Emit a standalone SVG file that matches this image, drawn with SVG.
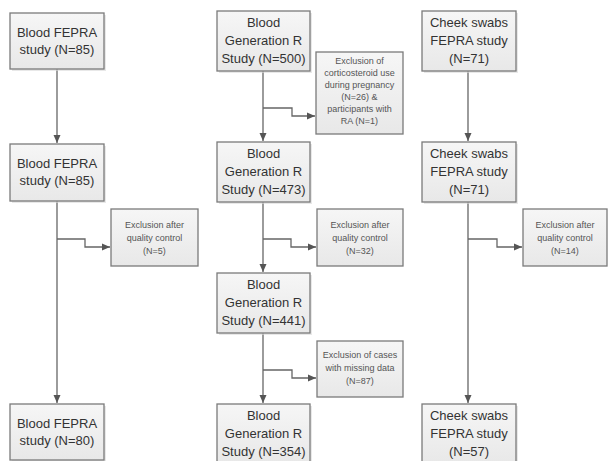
<svg xmlns="http://www.w3.org/2000/svg" width="608" height="461" viewBox="0 0 608 461">
<defs>
<linearGradient id="g" x1="0" y1="0" x2="0" y2="1"><stop offset="0" stop-color="#f6f6f6"/><stop offset="1" stop-color="#e8e8e8"/></linearGradient>
<marker id="ah" markerUnits="userSpaceOnUse" markerWidth="8" markerHeight="8" refX="8" refY="4" orient="auto"><path d="M0,0.5 L8,4 L0,7.5 z" fill="#555"/></marker>
</defs>
<style>
.b{fill:url(#g);stroke:#7a7a7a;stroke-width:1.3}
.s{fill:#d8d8d8;stroke:none;opacity:0.6}
.t{font-family:"Liberation Sans",Arial,sans-serif;font-size:13px;fill:#333;text-anchor:middle}
.e{font-family:"Liberation Sans",Arial,sans-serif;font-size:9px;fill:#555;text-anchor:middle}
.c{fill:none;stroke:#666;stroke-width:1.3;marker-end:url(#ah)}
</style>
<rect width="608" height="461" fill="#fff"/>
<g id="connectors">
<path class="c" d="M57,69 V143"/>
<path class="c" d="M57,201 V403"/>
<path class="c" d="M57,239 H85 V247 H110"/>
<path class="c" d="M263,71 V141"/>
<path class="c" d="M263,202 V272"/>
<path class="c" d="M263,333 V403"/>
<path class="c" d="M263,108 H292 V116 H315"/>
<path class="c" d="M263,239 H291 V247 H316"/>
<path class="c" d="M263,370 H292 V378 H316"/>
<path class="c" d="M468,71 V141"/>
<path class="c" d="M468,202 V403"/>
<path class="c" d="M468,239 H497 V247 H522"/>
</g>
<g id="n1"><rect class="s" x="12" y="15" width="94" height="56"/><rect class="b" x="10" y="13" width="94" height="56"/><text class="t" x="57" y="37">Blood FEPRA</text><text class="t" x="57" y="54">study (N=85)</text></g>
<g id="n2"><rect class="s" x="12" y="146" width="94" height="57"/><rect class="b" x="10" y="144" width="94" height="57"/><text class="t" x="57" y="168">Blood FEPRA</text><text class="t" x="57" y="185">study (N=85)</text></g>
<g id="n3"><rect class="b" x="111" y="209" width="87" height="57"/><text class="e" x="154.5" y="228">Exclusion after</text><text class="e" x="154.5" y="241">quality control</text><text class="e" x="154.5" y="254">(N=5)</text></g>
<g id="n4"><rect class="s" x="12" y="406" width="94" height="56"/><rect class="b" x="10" y="404" width="94" height="56"/><text class="t" x="57" y="428">Blood FEPRA</text><text class="t" x="57" y="445">study (N=80)</text></g>

<g id="m1"><rect class="s" x="219" y="13" width="93" height="60"/><rect class="b" x="217" y="11" width="93" height="60"/><text class="t" x="263.5" y="27">Blood</text><text class="t" x="263.5" y="45">Generation R</text><text class="t" x="263.5" y="63">Study (N=500)</text></g>
<g id="m2"><rect class="b" x="316" y="52" width="87" height="82"/><text class="e" x="359.5" y="64">Exclusion of</text><text class="e" x="359.5" y="76">corticosteroid use</text><text class="e" x="359.5" y="88">during pregnancy</text><text class="e" x="359.5" y="100">(N=26) &amp;</text><text class="e" x="359.5" y="112">participants with</text><text class="e" x="359.5" y="124">RA (N=1)</text></g>
<g id="m3"><rect class="s" x="219" y="144" width="93" height="60"/><rect class="b" x="217" y="142" width="93" height="60"/><text class="t" x="263.5" y="158">Blood</text><text class="t" x="263.5" y="176">Generation R</text><text class="t" x="263.5" y="194">Study (N=473)</text></g>
<g id="m4"><rect class="b" x="317" y="209" width="86" height="57"/><text class="e" x="360" y="228">Exclusion after</text><text class="e" x="360" y="241">quality control</text><text class="e" x="360" y="254">(N=32)</text></g>
<g id="m5"><rect class="s" x="219" y="275" width="93" height="60"/><rect class="b" x="217" y="273" width="93" height="60"/><text class="t" x="263.5" y="289">Blood</text><text class="t" x="263.5" y="307">Generation R</text><text class="t" x="263.5" y="325">Study (N=441)</text></g>
<g id="m6"><rect class="b" x="317" y="341" width="86" height="56"/><text class="e" x="360" y="358">Exclusion of cases</text><text class="e" x="360" y="371">with missing data</text><text class="e" x="360" y="384">(N=87)</text></g>
<g id="m7"><rect class="s" x="219" y="406" width="93" height="60"/><rect class="b" x="217" y="404" width="93" height="60"/><text class="t" x="263.5" y="420">Blood</text><text class="t" x="263.5" y="438">Generation R</text><text class="t" x="263.5" y="456">Study (N=354)</text></g>

<g id="k1"><rect class="s" x="424" y="13" width="94" height="60"/><rect class="b" x="422" y="11" width="94" height="60"/><text class="t" x="469" y="27">Cheek swabs</text><text class="t" x="469" y="45">FEPRA study</text><text class="t" x="469" y="63">(N=71)</text></g>
<g id="k2"><rect class="s" x="424" y="144" width="94" height="60"/><rect class="b" x="422" y="142" width="94" height="60"/><text class="t" x="469" y="158">Cheek swabs</text><text class="t" x="469" y="176">FEPRA study</text><text class="t" x="469" y="194">(N=71)</text></g>
<g id="k3"><rect class="b" x="523" y="209" width="84" height="57"/><text class="e" x="565" y="228">Exclusion after</text><text class="e" x="565" y="241">quality control</text><text class="e" x="565" y="254">(N=14)</text></g>
<g id="k4"><rect class="s" x="424" y="406" width="94" height="60"/><rect class="b" x="422" y="404" width="94" height="60"/><text class="t" x="469" y="420">Cheek swabs</text><text class="t" x="469" y="438">FEPRA study</text><text class="t" x="469" y="456">(N=57)</text></g>
</svg>
